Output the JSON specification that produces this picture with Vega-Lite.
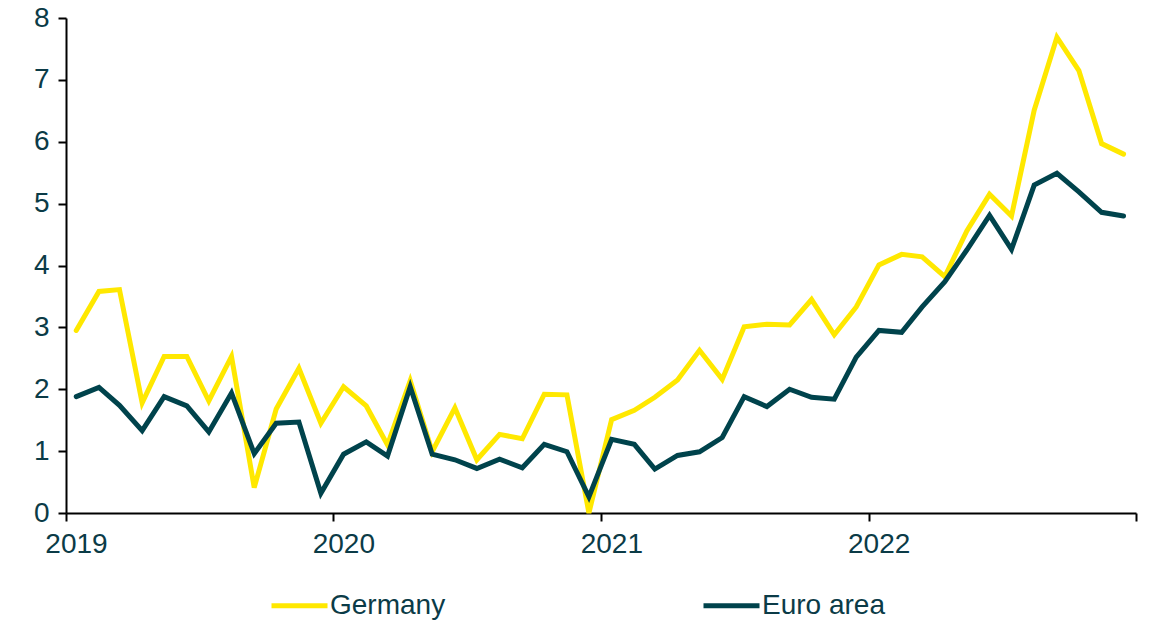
{
  "$schema": "https://vega.github.io/schema/vega-lite/v6.json",
  "autosize": {"type": "none"},
  "padding": {"left": 66, "top": 18, "right": 17, "bottom": 108},
  "width": 1070,
  "height": 495,
  "background": "white",
  "config": {
    "view": {"stroke": null},
    "font": "Liberation Sans"
  },
  "data": {
    "values": [
      {"date":"2019-01-15","series":"Germany","value":2.95},
      {"date":"2019-02-15","series":"Germany","value":3.58},
      {"date":"2019-03-15","series":"Germany","value":3.61},
      {"date":"2019-04-15","series":"Germany","value":1.78},
      {"date":"2019-05-15","series":"Germany","value":2.53},
      {"date":"2019-06-15","series":"Germany","value":2.53},
      {"date":"2019-07-15","series":"Germany","value":1.81},
      {"date":"2019-08-15","series":"Germany","value":2.53},
      {"date":"2019-09-15","series":"Germany","value":0.41},
      {"date":"2019-10-15","series":"Germany","value":1.68},
      {"date":"2019-11-15","series":"Germany","value":2.34},
      {"date":"2019-12-15","series":"Germany","value":1.45},
      {"date":"2020-01-15","series":"Germany","value":2.04},
      {"date":"2020-02-15","series":"Germany","value":1.73},
      {"date":"2020-03-15","series":"Germany","value":1.10},
      {"date":"2020-04-15","series":"Germany","value":2.14},
      {"date":"2020-05-15","series":"Germany","value":0.99},
      {"date":"2020-06-15","series":"Germany","value":1.70},
      {"date":"2020-07-15","series":"Germany","value":0.86},
      {"date":"2020-08-15","series":"Germany","value":1.27},
      {"date":"2020-09-15","series":"Germany","value":1.20},
      {"date":"2020-10-15","series":"Germany","value":1.92},
      {"date":"2020-11-15","series":"Germany","value":1.91},
      {"date":"2020-12-15","series":"Germany","value":0.0},
      {"date":"2021-01-15","series":"Germany","value":1.51},
      {"date":"2021-02-15","series":"Germany","value":1.66},
      {"date":"2021-03-15","series":"Germany","value":1.87},
      {"date":"2021-04-15","series":"Germany","value":2.15},
      {"date":"2021-05-15","series":"Germany","value":2.63},
      {"date":"2021-06-15","series":"Germany","value":2.16},
      {"date":"2021-07-15","series":"Germany","value":3.01},
      {"date":"2021-08-15","series":"Germany","value":3.05},
      {"date":"2021-09-15","series":"Germany","value":3.04},
      {"date":"2021-10-15","series":"Germany","value":3.45},
      {"date":"2021-11-15","series":"Germany","value":2.88},
      {"date":"2021-12-15","series":"Germany","value":3.33},
      {"date":"2022-01-15","series":"Germany","value":4.01},
      {"date":"2022-02-15","series":"Germany","value":4.18},
      {"date":"2022-03-15","series":"Germany","value":4.14},
      {"date":"2022-04-15","series":"Germany","value":3.82},
      {"date":"2022-05-15","series":"Germany","value":4.56},
      {"date":"2022-06-15","series":"Germany","value":5.15},
      {"date":"2022-07-15","series":"Germany","value":4.80},
      {"date":"2022-08-15","series":"Germany","value":6.51},
      {"date":"2022-09-15","series":"Germany","value":7.69},
      {"date":"2022-10-15","series":"Germany","value":7.15},
      {"date":"2022-11-15","series":"Germany","value":5.97},
      {"date":"2022-12-15","series":"Germany","value":5.80},
      {"date":"2019-01-15","series":"Euro area","value":1.88},
      {"date":"2019-02-15","series":"Euro area","value":2.03},
      {"date":"2019-03-15","series":"Euro area","value":1.74},
      {"date":"2019-04-15","series":"Euro area","value":1.33},
      {"date":"2019-05-15","series":"Euro area","value":1.88},
      {"date":"2019-06-15","series":"Euro area","value":1.73},
      {"date":"2019-07-15","series":"Euro area","value":1.31},
      {"date":"2019-08-15","series":"Euro area","value":1.94},
      {"date":"2019-09-15","series":"Euro area","value":0.96},
      {"date":"2019-10-15","series":"Euro area","value":1.45},
      {"date":"2019-11-15","series":"Euro area","value":1.47},
      {"date":"2019-12-15","series":"Euro area","value":0.32},
      {"date":"2020-01-15","series":"Euro area","value":0.95},
      {"date":"2020-02-15","series":"Euro area","value":1.15},
      {"date":"2020-03-15","series":"Euro area","value":0.92},
      {"date":"2020-04-15","series":"Euro area","value":2.04},
      {"date":"2020-05-15","series":"Euro area","value":0.95},
      {"date":"2020-06-15","series":"Euro area","value":0.86},
      {"date":"2020-07-15","series":"Euro area","value":0.72},
      {"date":"2020-08-15","series":"Euro area","value":0.87},
      {"date":"2020-09-15","series":"Euro area","value":0.73},
      {"date":"2020-10-15","series":"Euro area","value":1.11},
      {"date":"2020-11-15","series":"Euro area","value":0.99},
      {"date":"2020-12-15","series":"Euro area","value":0.26},
      {"date":"2021-01-15","series":"Euro area","value":1.19},
      {"date":"2021-02-15","series":"Euro area","value":1.11},
      {"date":"2021-03-15","series":"Euro area","value":0.71},
      {"date":"2021-04-15","series":"Euro area","value":0.93},
      {"date":"2021-05-15","series":"Euro area","value":0.99},
      {"date":"2021-06-15","series":"Euro area","value":1.22},
      {"date":"2021-07-15","series":"Euro area","value":1.88},
      {"date":"2021-08-15","series":"Euro area","value":1.72},
      {"date":"2021-09-15","series":"Euro area","value":2.00},
      {"date":"2021-10-15","series":"Euro area","value":1.87},
      {"date":"2021-11-15","series":"Euro area","value":1.84},
      {"date":"2021-12-15","series":"Euro area","value":2.52},
      {"date":"2022-01-15","series":"Euro area","value":2.95},
      {"date":"2022-02-15","series":"Euro area","value":2.92},
      {"date":"2022-03-15","series":"Euro area","value":3.33},
      {"date":"2022-04-15","series":"Euro area","value":3.74},
      {"date":"2022-05-15","series":"Euro area","value":4.25},
      {"date":"2022-06-15","series":"Euro area","value":4.81},
      {"date":"2022-07-15","series":"Euro area","value":4.26},
      {"date":"2022-08-15","series":"Euro area","value":5.30},
      {"date":"2022-09-15","series":"Euro area","value":5.49},
      {"date":"2022-10-15","series":"Euro area","value":5.19},
      {"date":"2022-11-15","series":"Euro area","value":4.86},
      {"date":"2022-12-15","series":"Euro area","value":4.80}
    ]
  },
  "mark": {"type": "line", "strokeWidth": 5, "strokeCap": "round", "strokeJoin": "miter"},
  "encoding": {
    "x": {
      "field": "date",
      "type": "temporal",
      "scale": {"domain": ["2019-01-01", "2023-01-01"], "nice": false},
      "axis": {
        "title": null,
        "grid": false,
        "values": ["2019-01-01", "2020-01-01", "2021-01-01", "2022-01-01", "2023-01-01"],
        "labelExpr": "utcyear(datum.value) >= 2023 ? '' : utcFormat(datum.value, '%Y')",
        "domainColor": "black",
        "domainWidth": 2,
        "tickColor": "black",
        "tickWidth": 2,
        "tickSize": 8,
        "labelFont": "Liberation Sans",
        "labelFontSize": 28,
        "labelColor": "#0b3b47",
        "labelPadding": 9,
        "labelOffset": 10,
        "labelFlush": false
      }
    },
    "y": {
      "field": "value",
      "type": "quantitative",
      "scale": {"domain": [0, 8], "nice": false, "zero": true},
      "axis": {
        "title": null,
        "grid": false,
        "values": [0, 1, 2, 3, 4, 5, 6, 7, 8],
        "domainColor": "black",
        "domainWidth": 2,
        "tickColor": "black",
        "tickWidth": 2,
        "tickSize": 8,
        "labelFont": "Liberation Sans",
        "labelFontSize": 28,
        "labelColor": "#0b3b47",
        "labelPadding": 9
      }
    },
    "color": {
      "field": "series",
      "type": "nominal",
      "sort": ["Germany", "Euro area"],
      "scale": {"domain": ["Germany", "Euro area"], "range": ["#ffe800", "#00434c"]},
      "legend": {
        "title": null,
        "orient": "none",
        "direction": "horizontal",
        "legendX": 203,
        "legendY": 557,
        "symbolType": "stroke",
        "symbolSize": 3136,
        "symbolStrokeWidth": 5,
        "labelFont": "Liberation Sans",
        "labelFontSize": 28,
        "labelColor": "#0b3b47",
        "labelOffset": 0,
        "columnPadding": 247,
        "labelLimit": 300
      }
    }
  }
}
